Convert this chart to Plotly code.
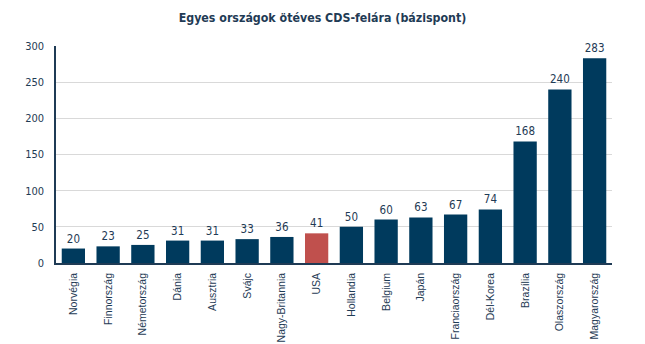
import plotly.graph_objects as go

countries = ["Norvégia", "Finnország", "Németország", "Dánia", "Ausztria", "Svájc",
             "Nagy-Britannia", "USA", "Hollandia", "Belgium", "Japán", "Franciaország",
             "Dél-Korea", "Brazília", "Olaszország", "Magyarország"]
values = [20, 23, 25, 31, 31, 33, 36, 41, 50, 60, 63, 67, 74, 168, 240, 283]
highlight = "USA"

navy = "#003a5d"
red = "#c0504d"
colors = [red if c == highlight else navy for c in countries]

fig = go.Figure(go.Bar(
    x=countries, y=values, marker_color=colors, marker_line_width=0,
    text=[str(v) for v in values], textposition="outside", cliponaxis=False,
    textfont=dict(family="DejaVu Sans Condensed", size=11.5, color="#1f3b55"),
))

fig.update_layout(
    width=645, height=344,
    margin=dict(l=56, r=33, t=46, b=81, autoexpand=False),
    paper_bgcolor="white", plot_bgcolor="white",
    bargap=0.33,
    showlegend=False,
    title=dict(text="<b>Egyes országok ötéves CDS-felára (bázispont)</b>",
               x=0.5, xanchor="center", y=0.95, yanchor="middle",
               font=dict(family="DejaVu Sans Condensed", size=12.3, color="#1f3b55")),
)
fig.update_xaxes(
    tickangle=-90, showline=True, linecolor="#1f3b55", linewidth=1.5,
    tickfont=dict(family="Liberation Sans Narrow, Liberation Sans", size=10.5, color="#1f3b55"),
    ticks="", showgrid=False, ticklabelstandoff=4, automargin=False,
)
fig.update_yaxes(
    range=[0, 300], dtick=50, showgrid=True, gridcolor="#d9d9d9", gridwidth=1,
    showline=True, linecolor="#1f3b55", linewidth=1.5, zeroline=False,
    tickfont=dict(family="DejaVu Sans Condensed", size=11, color="#1f3b55"),
    ticks="", ticklabelstandoff=8, automargin=False,
)

fig.write_html("out.html")
